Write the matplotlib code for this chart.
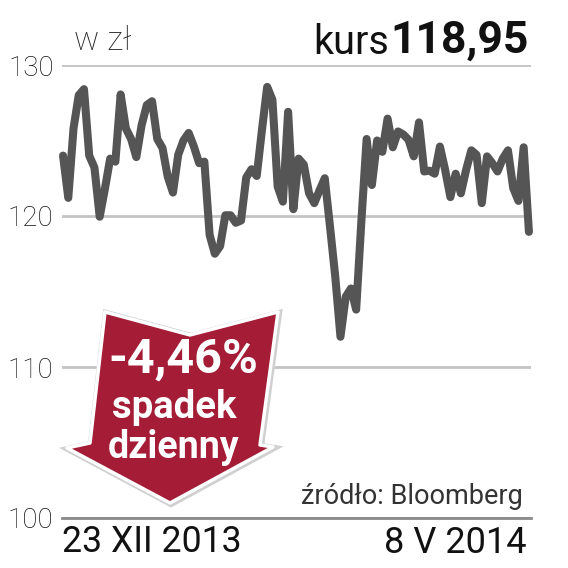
"""Kurs akcji - wykres dzienny z etykieta spadku."""

import matplotlib

matplotlib.use("Agg")
import matplotlib.pyplot as plt
from matplotlib.patches import Polygon

SIZE = 568

PRICES = [
    124.0, 121.2, 125.8, 128.0, 128.4, 124.0, 123.2, 119.95, 121.8, 123.8,
    123.6, 128.05, 125.8, 125.1, 123.9, 126.0, 127.35, 127.6, 125.1, 124.5,
    122.6, 121.55, 124.05, 125.0, 125.5, 124.6, 123.5, 123.6, 118.75, 117.5,
    118.0, 120.05, 120.05, 119.55, 119.7, 122.55, 123.1, 122.65, 125.7, 128.55,
    127.7, 121.95, 120.95, 126.9, 120.45, 123.8, 123.4, 121.5, 120.85, 121.7,
    122.5, 119.3, 116.0, 112.0, 114.65, 115.2, 113.8, 119.7, 125.1, 122.05,
    125.0, 124.25, 126.45, 124.55, 125.6, 125.4, 125.05, 123.95, 126.2, 122.95,
    123.0, 122.8, 124.6, 123.05, 121.25, 122.8, 121.5, 123.05, 124.35, 124.05,
    120.85, 123.95, 123.5, 122.95, 123.8, 124.35, 121.85, 121.0, 124.55, 118.95,
]
Y_TICKS = [100, 110, 120, 130]
DATE_LABELS = ["23 XII 2013", "8 V 2014"]
ARROW_PX = [
    (105, 312), (190, 335), (278, 312), (260, 445), (273, 447),
    (170, 503), (67, 448), (90, 443),
]

plt.rcParams["font.family"] = ["Roboto", "DejaVu Sans"]


def px(x, y):
    return x / SIZE, 1 - y / SIZE


fig = plt.figure(figsize=(SIZE / 100, SIZE / 100), dpi=100)
ax = fig.add_axes([62 / SIZE, 1 - 518 / SIZE, (531 - 62) / SIZE, (518 - 65) / SIZE])
ax.set_ylim(100, 130)
ax.set_xlim(-0.2, len(PRICES) - 1 + 0.4)
for side in ("top", "left", "right"):
    ax.spines[side].set_visible(False)
ax.spines["bottom"].set_color("#8a8a8a")
ax.spines["bottom"].set_linewidth(2)
ax.set_xticks([])
ax.set_yticks(Y_TICKS)
ax.tick_params(axis="y", length=0, pad=6, labelsize=20, labelcolor="#111111")
for label in ax.get_yticklabels():
    label.set_fontweight("light")
ax.grid(axis="y", color="#c4c4c4", linewidth=2)
ax.set_axisbelow(True)
ax.plot(range(len(PRICES)), PRICES, color="#555555", linewidth=5.8, clip_on=False,
        solid_joinstyle="round", solid_capstyle="round", zorder=3)

# strzalka ze spadkiem
arrow = [px(x, y) for x, y in ARROW_PX]
shadow = [px(x + 1, y + 1) for x, y in ARROW_PX]
fig.add_artist(Polygon(shadow, closed=True, transform=fig.transFigure, facecolor="#d0d0d0",
                       edgecolor="#d0d0d0", linewidth=4.5, zorder=5))
fig.add_artist(Polygon(arrow, closed=True, transform=fig.transFigure, facecolor="#a51c36",
                       edgecolor="white", linewidth=2.5, joinstyle="round", zorder=6))

fig.text(*px(183, 360), "-4,46%", color="white", fontsize=35, fontweight="bold",
         ha="center", va="center", zorder=7)
fig.text(*px(174, 408), "spadek", color="white", fontsize=27.5, fontweight="bold",
         ha="center", va="center", zorder=7)
fig.text(*px(174, 447), "dzienny", color="white", fontsize=27, fontweight="bold",
         ha="center", va="center", zorder=7)

fig.text(*px(74, 41), "w zł", color="#222222", fontsize=24, fontweight="light", ha="left", va="center")
fig.text(*px(313, 42), "kurs", color="#111111", fontsize=28.5, ha="left", va="center")
fig.text(*px(529, 41), "118,95", color="#111111", fontsize=32, fontweight="bold",
         ha="right", va="center")
fig.text(*px(523, 497), "źródło: Bloomberg", color="#333333", fontsize=19.5, ha="right", va="center")
fig.text(*px(62, 542), DATE_LABELS[0], color="#111111", fontsize=25.7, ha="left", va="center")
fig.text(*px(526, 543), DATE_LABELS[1], color="#111111", fontsize=26, ha="right", va="center")

fig.savefig("out.png", dpi=100)
